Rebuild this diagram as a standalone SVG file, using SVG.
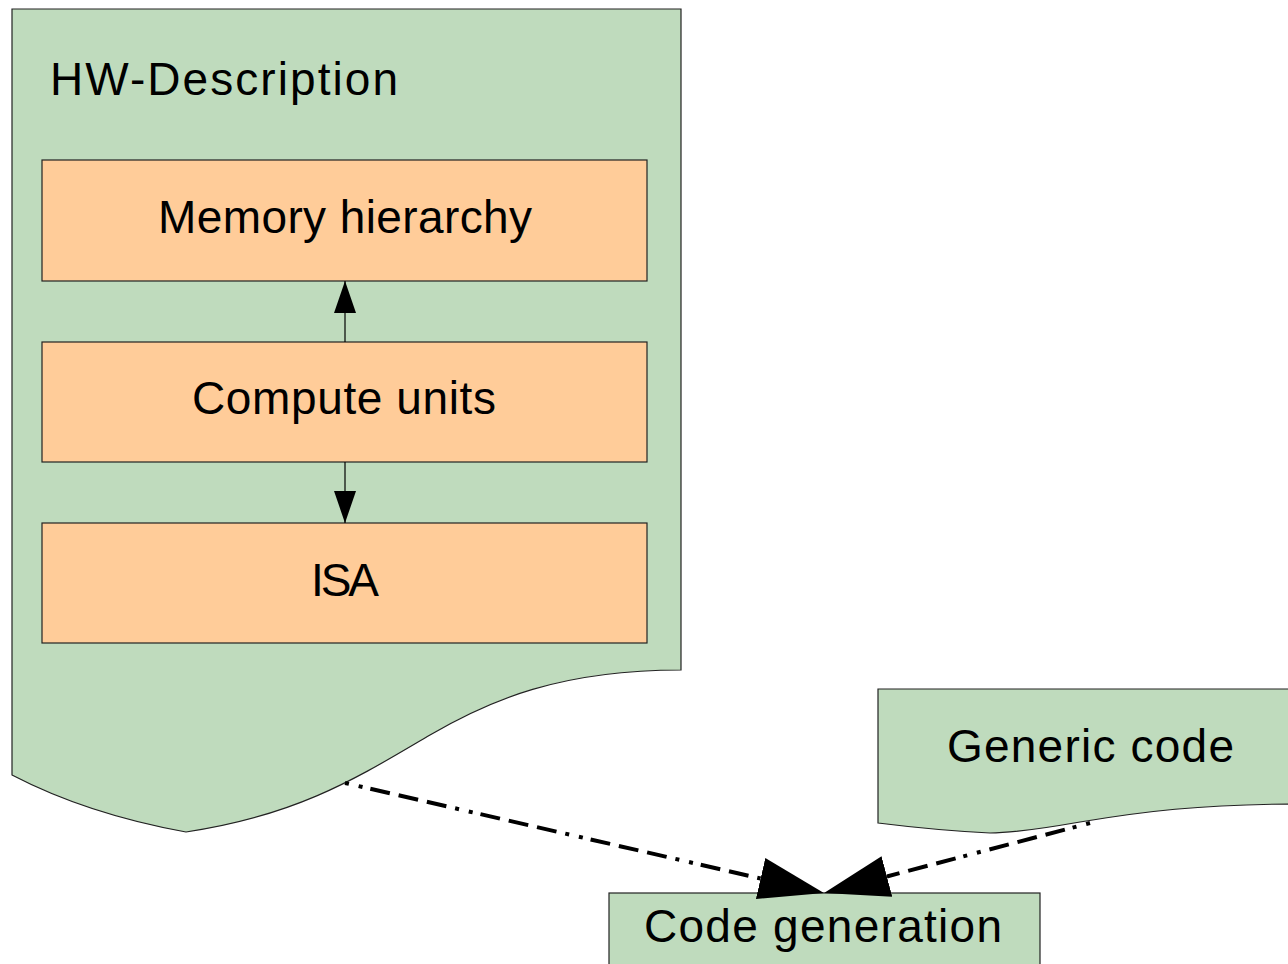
<svg xmlns="http://www.w3.org/2000/svg" width="1288" height="964" viewBox="0 0 1288 964">
  <style>
    .doc { fill: #bfdbbd; stroke: #222; stroke-width: 1.2; }
    .part { fill: #ffcc99; stroke: #222; stroke-width: 1.2; }
    .label { font-family: "Liberation Sans", Arial, sans-serif; font-size: 46px; fill: #000; }
    .link { stroke: #000; stroke-width: 1.2; fill: none; }
    .flow { stroke: #000; stroke-width: 4; fill: none; stroke-dasharray: 4 10 4 8 20 9 20 9 20 9; }
  </style>
  <defs>
    <marker id="tip-small" viewBox="0 -11 32 22" refX="32" refY="0" markerWidth="32" markerHeight="22" markerUnits="userSpaceOnUse" orient="auto">
      <path d="M0,-11 L32,0 L0,11 Z" fill="#000"/>
    </marker>
    <marker id="tip-large" viewBox="0 -21 65 42" refX="0" refY="0" markerWidth="65" markerHeight="42" markerUnits="userSpaceOnUse" orient="auto">
      <path d="M0,-21 L65,0 L0,21 Z" fill="#000"/>
    </marker>
  </defs>

  <g id="hw-description">
    <path class="doc" d="M12,9 H681 V670 C560,670 490,700 430,735 C360,776 300,815 186,832 C120,820 60,800 12,775 Z"/>
    <text class="label" x="50" y="95" textLength="348">HW-Description</text>
  </g>

  <g id="memory-hierarchy">
    <rect class="part" x="42" y="160" width="605" height="121"/>
    <text class="label" x="158" y="233" textLength="374">Memory hierarchy</text>
  </g>

  <g id="compute-units">
    <rect class="part" x="42" y="342" width="605" height="120"/>
    <text class="label" x="192" y="414" textLength="304">Compute units</text>
  </g>

  <g id="isa">
    <rect class="part" x="42" y="523" width="605" height="120"/>
    <text class="label" x="311" y="596" textLength="68">ISA</text>
  </g>

  <g id="generic-code">
    <path class="doc" d="M878,689 H1300 V804 C1200,804 1140,812 1080,822 C1040,829 1010,833 990,833 C950,831 910,827 878,823 Z"/>
    <text class="label" x="947" y="762" textLength="287">Generic code</text>
  </g>

  <g id="code-generation">
    <rect class="doc" x="609" y="893" width="431" height="90"/>
    <text class="label" x="644" y="942" textLength="358">Code generation</text>
  </g>

  <g id="connectors">
    <line class="link" x1="345" y1="342" x2="345" y2="281" marker-end="url(#tip-small)"/>
    <line class="link" x1="345" y1="462" x2="345" y2="523" marker-end="url(#tip-small)"/>
    <path class="flow" d="M345,783 L760.6,878.5" marker-end="url(#tip-large)"/>
    <path class="flow" d="M1090,823 L886.9,876.5" marker-end="url(#tip-large)"/>
  </g>
</svg>
